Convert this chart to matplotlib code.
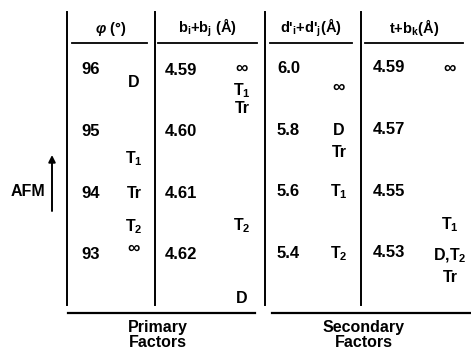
import matplotlib
matplotlib.use("Agg")
import matplotlib.pyplot as plt

plt.rcParams.update({
    "font.family": ["Liberation Sans", "DejaVu Sans"],
    "font.weight": "bold",
    "mathtext.fontset": "custom",
    "mathtext.rm": "Liberation Sans:bold",
    "mathtext.it": "Liberation Sans:italic",
    "mathtext.bf": "Liberation Sans:bold",
})

# scale values printed on each column
phi_ticks = [96, 95, 94, 93]
bb_ticks = [4.59, 4.60, 4.61, 4.62]
dd_ticks = [6.0, 5.8, 5.6, 5.4]
tb_ticks = [4.59, 4.57, 4.55, 4.53]

# ordering labels and where they fall on each scale
phi_labels = ["D", "T$_1$", "Tr", "T$_2$", "∞"]
phi_values = [95.79, 94.56, 94.0, 93.46, 93.1]

bb_labels = ["∞", "T$_1$", "Tr", "T$_2$", "D"]
bb_values = [4.5898, 4.5934, 4.5962, 4.6153, 4.6272]

dd_labels = ["∞", "D", "Tr", "T$_1$", "T$_2$"]
dd_values = [5.94, 5.80, 5.73, 5.60, 5.40]

tb_labels = ["∞", "T$_1$", "D,T$_2$", "Tr"]
tb_values = [4.59, 4.539, 4.529, 4.522]

headers = [r"$\varphi$ (°)",
           r"b$_\mathregular{i}$+b$_\mathregular{j}$ (Å)",
           r"d$'_\mathregular{i}$+d$'_\mathregular{j}$(Å)",
           r"t+b$_\mathregular{k}$(Å)"]

W, H = 471, 352
fig = plt.figure(figsize=(W / 100, H / 100), dpi=100)
base = fig.add_axes([0, 0, 1, 1])
base.set_xlim(0, W)
base.set_ylim(H, 0)
base.axis("off")

# vertical rules and header underlines
for x in [67, 155, 265, 361]:
    base.plot([x, x], [12, 305], color="black", lw=1.4)
for (x0, x1) in [(72, 147), (158, 257), (270, 352), (365, 463)]:
    base.plot([x0, x1], [43, 43], color="black", lw=1.3)
for (x0, x1) in [(68, 255), (272, 471)]:
    base.plot([x0, x1], [313, 313], color="black", lw=1.6)

for hx, txt in zip([111, 207, 311, 414], headers):
    base.text(hx, 33, txt, ha="center", va="baseline", fontsize=10.5)

base.text(158, 335, "Primary\nFactors", ha="center", va="center",
          fontsize=11.5, linespacing=1.05)
base.text(364, 335, "Secondary\nFactors", ha="center", va="center",
          fontsize=11.5, linespacing=1.05)

base.text(45, 192, "AFM", ha="right", va="center", fontsize=11.5)
base.annotate("", xy=(52, 155), xytext=(52, 211),
              arrowprops=dict(arrowstyle="-|>", color="black", lw=1.4,
                              mutation_scale=10, shrinkA=0, shrinkB=0))

# each column gets its own value axis; about 61 px per printed step
cols = [
    (phi_ticks, phi_labels, phi_values, 81, 134, 70, -1.0),
    (bb_ticks, bb_labels, bb_values, 165, 242, 70, 0.01),
    (dd_ticks, dd_labels, dd_values, 277, 339, 69, -0.2),
    (tb_ticks, tb_labels, tb_values, 373, 450, 68, -0.02),
]
step_px = 61.5
for ticks, labels, values, xnum, xlab, yref, step in cols:
    ax = fig.add_axes([0, 0, 1, 1])
    ax.patch.set_alpha(0)
    ax.axis("off")
    ax.set_xlim(0, W)
    v0 = ticks[0]
    bottom = v0 + (H - yref) / step_px * step
    top = v0 - yref / step_px * step
    ax.set_ylim(bottom, top)
    fmt = "{:g}" if isinstance(v0, int) else ("{:.1f}" if abs(step) >= 0.1 else "{:.2f}")
    for v in ticks:
        ax.text(xnum, v, fmt.format(v), ha="left", va="center", fontsize=12)
    for lab, v in zip(labels, values):
        ax.text(xlab, v, lab, ha="center", va="center",
                fontsize=12.5 if lab == "∞" else 11.5)

fig.savefig("out.png", dpi=100)
